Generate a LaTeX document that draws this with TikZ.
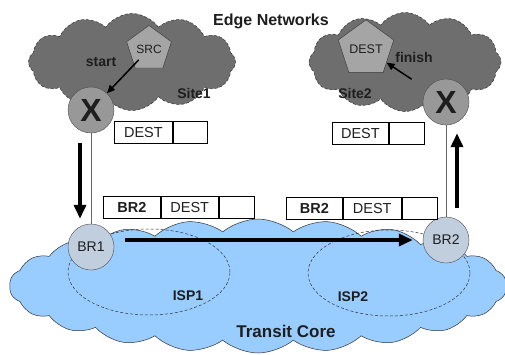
\documentclass[tikz,border=0pt]{standalone}
\usepackage{fontspec}
\setmainfont{Liberation Sans}
\usetikzlibrary{arrows.meta,positioning,shapes.geometric,shapes.symbols}
\definecolor{sitegray}{RGB}{110,110,110}
\definecolor{hostgray}{RGB}{165,165,165}
\definecolor{xgray}{RGB}{152,152,152}
\definecolor{coreblue}{RGB}{153,204,255}
\definecolor{brblue}{RGB}{192,206,222}
\definecolor{ink}{RGB}{30,30,30}

\begin{document}
\begin{tikzpicture}[x=1pt,y=-1pt,>=Stealth,text=ink,
    site/.style={cloud, cloud puffs=12, cloud puff arc=110, cloud ignores aspect,
        draw=black!80, densely dashed, line width=0.5pt, fill=sitegray},
    host/.style={regular polygon, regular polygon sides=5, minimum size=47pt,
        inner sep=0pt, draw=black!80, fill=hostgray},
    xnode/.style={circle, minimum size=46pt, inner sep=0pt, draw=black!70,
        fill=xgray, font=\fontsize{32}{32}\selectfont\bfseries},
    brnode/.style={circle, minimum size=46pt, inner sep=0pt, draw=black!70,
        fill=brblue, font=\fontsize{14}{14}\selectfont},
    isp/.style={ellipse, minimum width=162pt, minimum height=86pt,
        draw=black!80, densely dashed, line width=0.5pt},
    cell/.style={draw, line width=0.8pt, minimum height=22pt, inner sep=0pt,
        font=\fontsize{14.5}{14}\selectfont},
    lbl/.style={font=\fontsize{14}{14}\selectfont\bfseries},
    bigarrow/.style={line width=4pt, -{Triangle[length=14pt,width=12pt]}},
    thinarrow/.style={line width=1.5pt, -{Triangle[length=8pt,width=7pt]}},
]
    \useasboundingbox (0,0) rectangle (505,354);

    % Edge networks
    \node[site, minimum width=207pt, minimum height=97pt] (site1) at (132,62) {};
    \node[site, minimum width=192pt, minimum height=99pt] (site2) at (405,62) {};
    \node[font=\fontsize{16}{16}\selectfont\bfseries] (edge) at (271,21) {Edge Networks};

    % Transit core
    \node[cloud, cloud puffs=22, cloud puff arc=80, cloud ignores aspect,
        minimum width=497pt, minimum height=134pt, fill=coreblue,
        draw=black!80, line width=0.5pt] (core) at (258,286) {};
    \node[isp] (isp1) at (149,272) {};
    \node[isp] (isp2) at (389,273) {};
    \node[lbl] (isp1lbl) at (188,296) {ISP1};
    \node[lbl] (isp2lbl) at (353,297) {ISP2};
    \node[font=\fontsize{17}{17}\selectfont\bfseries] (transit) at (286,331) {Transit Core};

    % Hosts and routers
    \node[host, font=\fontsize{12}{12}\selectfont] (src) at (149,49) {SRC};
    \node[host, font=\fontsize{12.5}{12}\selectfont] (dest) at (366,49) {DEST};
    \node[xnode] (x1) at (91,110) {X};
    \node[xnode] (x2) at (446,102) {X};
    \node[brnode] (br1) at (91,247) {BR1};
    \node[brnode] (br2) at (446,240) {BR2};
    \draw[black!60, line width=0.6pt] (x1) -- (br1);
    \draw[black!60, line width=0.6pt] (x2) -- (br2);

    \node[lbl] (start) at (101,62) {start};
    \node[lbl] (finish) at (414,57) {finish};
    \node[lbl] (site1lbl) at (194,93) {Site1};
    \node[lbl] (site2lbl) at (355,93) {Site2};

    % Packet headers
    \node[cell, minimum width=58pt, anchor=north west] (hd1a) at (114,121) {DEST};
    \node[cell, minimum width=34pt, right=0pt of hd1a] (hd1b) {};
    \node[cell, minimum width=57pt, anchor=north west] (hd2a) at (103,196) {\bfseries BR2};
    \node[cell, minimum width=57pt, right=0pt of hd2a] (hd2b) {DEST};
    \node[cell, minimum width=35pt, right=0pt of hd2b] (hd2c) {};
    \node[cell, minimum width=56pt, anchor=north west] (hd3a) at (286,197) {\bfseries BR2};
    \node[cell, minimum width=58pt, right=0pt of hd3a] (hd3b) {DEST};
    \node[cell, minimum width=35pt, right=0pt of hd3b] (hd3c) {};
    \node[cell, minimum width=56pt, anchor=north west] (hd4a) at (332,122) {DEST};
    \node[cell, minimum width=35pt, right=0pt of hd4a] (hd4b) {};

    % Path of the packet
    \draw[thinarrow, shorten <=15pt] (src.center) -- (x1);
    \draw[thinarrow, shorten <=18pt] (x2) -- (dest);
    \draw[bigarrow] ([xshift=-11pt,yshift=-10pt]x1.south) -- ([xshift=-11pt,yshift=5pt]br1.north);
    \draw[bigarrow] ([xshift=11pt]br1.east |- br2.west) -- ([xshift=-10pt]br2.west);
    \draw[bigarrow] ([xshift=11pt,yshift=9pt]br2.north) -- ([xshift=11pt,yshift=-8pt]x2.south);
\end{tikzpicture}
\end{document}
